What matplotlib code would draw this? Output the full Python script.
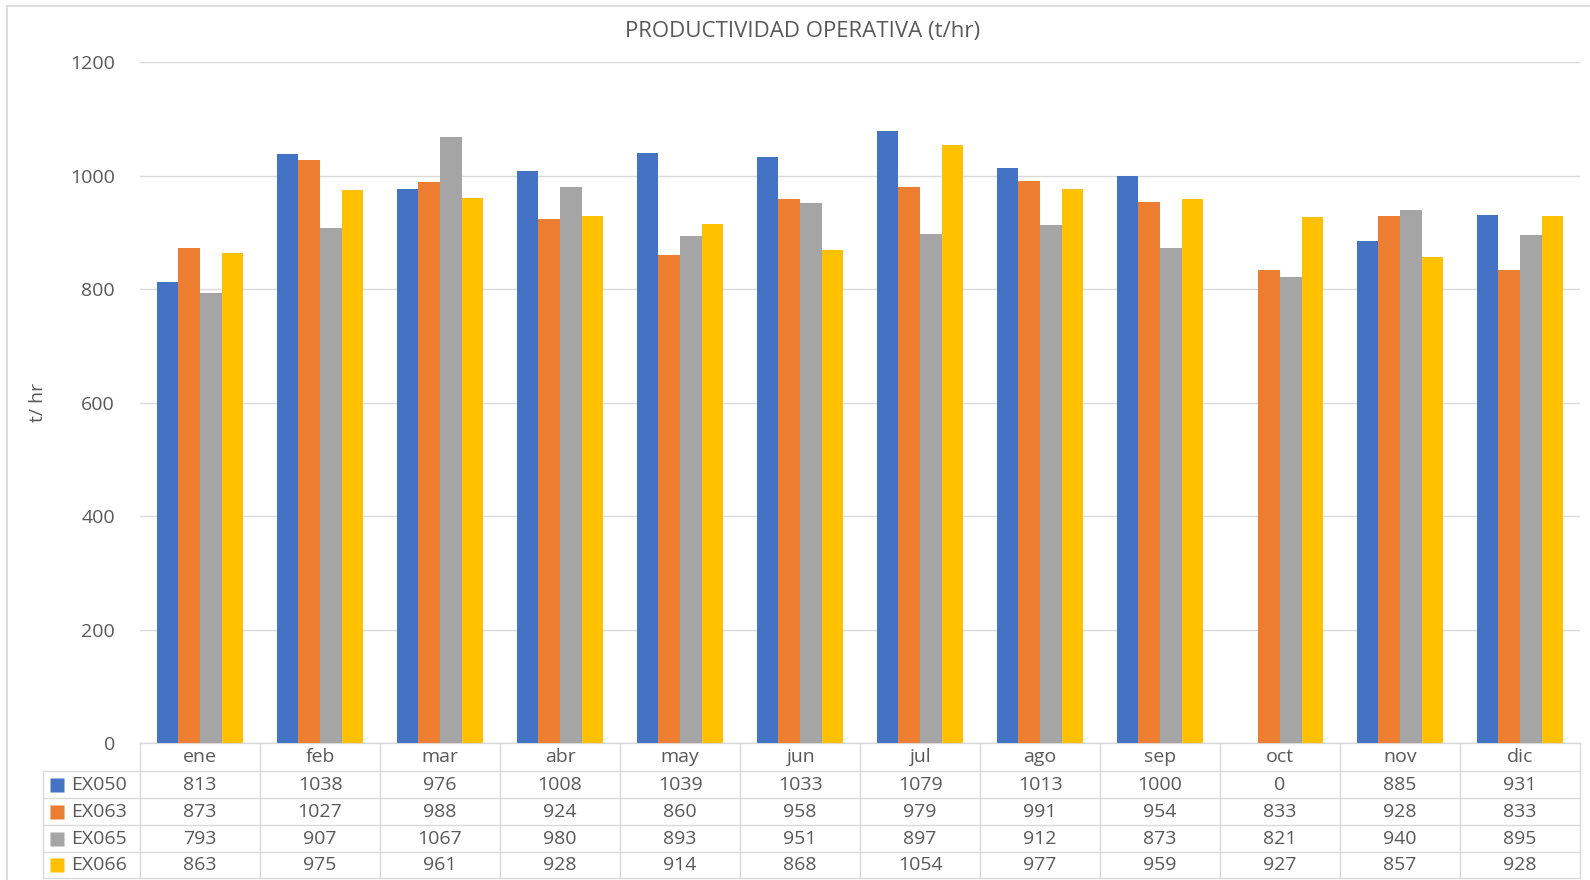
import matplotlib.pyplot as plt
import numpy as np

months = ['ene', 'feb', 'mar', 'abr', 'may', 'jun', 'jul', 'ago', 'sep', 'oct', 'nov', 'dic']
series = ['EX050', 'EX063', 'EX065', 'EX066']
ex050 = [813, 1038, 976, 1008, 1039, 1033, 1079, 1013, 1000, 0, 885, 931]
ex063 = [873, 1027, 988, 924, 860, 958, 979, 991, 954, 833, 928, 833]
ex065 = [793, 907, 1067, 980, 893, 951, 897, 912, 873, 821, 940, 895]
ex066 = [863, 975, 961, 928, 914, 868, 1054, 977, 959, 927, 857, 928]
colors = ['#4472C4', '#ED7D31', '#A5A5A5', '#FFC000']

plt.rcParams['font.family'] = ['Open Sans', 'DejaVu Sans']
txt = '#595959'
grid = '#d9d9d9'
fs = 14

fig = plt.figure(figsize=(15.9, 8.8), dpi=100)
W, H = 1590, 880
ax = fig.add_axes([140 / W, 1 - 743 / H, 1440 / W, 681 / H])

x = np.arange(len(months))
w = 0.181
for k, vals in enumerate([ex050, ex063, ex065, ex066]):
    ax.bar(x + (k - 1.5) * w, vals, width=w, color=colors[k], zorder=3)

ax.set_xlim(-0.5, len(months) - 0.5)
ax.set_ylim(0, 1200)
ax.set_yticks(range(0, 1201, 200))
ax.tick_params(axis='y', length=0, pad=18, labelsize=fs, labelcolor=txt)
ax.set_xticks([])
for s in ax.spines.values():
    s.set_visible(False)
ax.yaxis.grid(True, color=grid, lw=1, zorder=0)
ax.set_ylabel('t/ hr', fontsize=fs, color=txt)
ax.yaxis.set_label_coords(-(140 - 47) / 1440, 0.5)
fig.text(0.505, 1 - 32 / H, 'PRODUCTIVIDAD OPERATIVA (t/hr)', ha='center', va='center',
         fontsize=16, color=txt)

# data table under the axis
tr = ax.get_xaxis_transform()
rows = [0, -28, -55, -82, -109, -135]
ry = [r / 681 for r in rows]
left = -0.5 - 97 / 120
right = len(months) - 0.5
kw = dict(color=grid, lw=1, transform=tr, clip_on=False)
ax.plot([-0.5, right], [ry[0], ry[0]], **kw)
for yy in ry[1:]:
    ax.plot([left, right], [yy, yy], **kw)
for b in np.arange(-0.5, len(months), 1.0):
    ax.plot([b, b], [ry[0], ry[-1]], **kw)
ax.plot([left, left], [ry[1], ry[-1]], **kw)

for i, m in enumerate(months):
    ax.text(i, (ry[0] + ry[1]) / 2, m, transform=tr, ha='center', va='center',
            fontsize=fs, color=txt)
for k, (name, vals) in enumerate(zip(series, [ex050, ex063, ex065, ex066])):
    yc = (ry[k + 1] + ry[k + 2]) / 2
    ax.plot([left + 14 / 120], [yc], marker='s', ms=9.5, color=colors[k],
            transform=tr, clip_on=False, mec='none')
    ax.text(left + 28 / 120, yc, name, transform=tr, ha='left', va='center',
            fontsize=fs, color=txt)
    for i, v in enumerate(vals):
        ax.text(i, yc, str(v), transform=tr, ha='center', va='center',
                fontsize=fs, color=txt)

# chart frame
fig.add_artist(plt.Line2D([7 / W, 7 / W], [0, 1 - 6 / H], color=grid, lw=1.2))
fig.add_artist(plt.Line2D([7 / W, 1], [1 - 6 / H, 1 - 6 / H], color=grid, lw=1.2))

fig.savefig('out.png', dpi=100)
